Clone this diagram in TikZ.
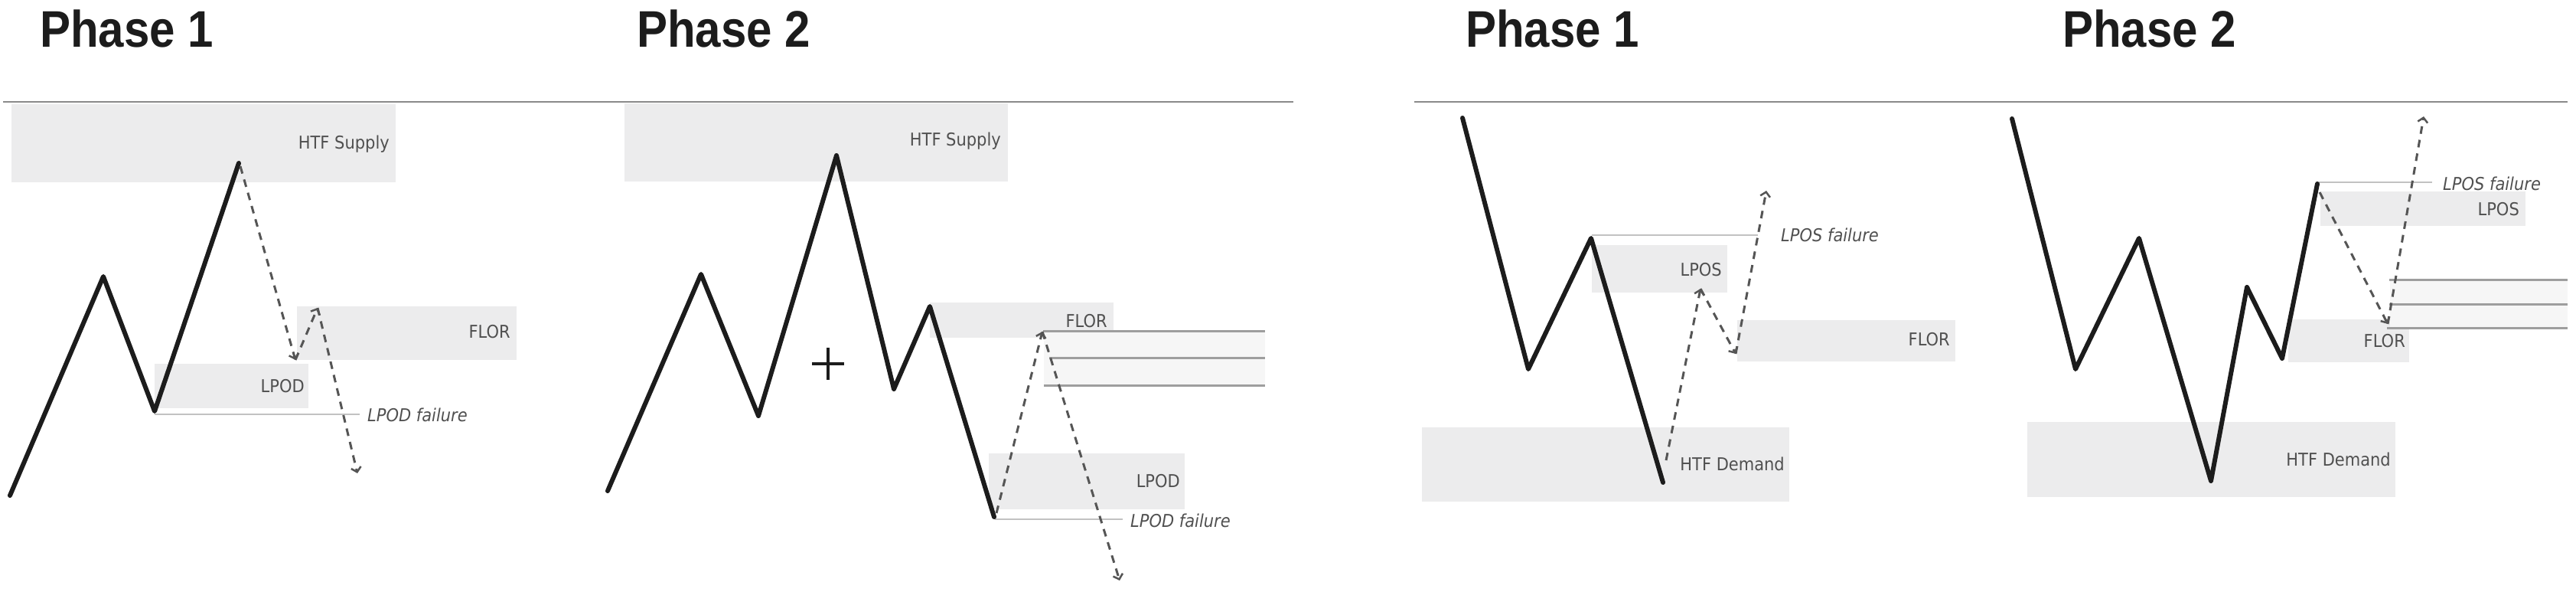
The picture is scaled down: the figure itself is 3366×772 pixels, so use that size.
\documentclass[tikz,border=0pt]{standalone}
\usepackage{fontspec}
\setmainfont{Liberation Sans}
\newfontfamily\labfont{DejaVu Sans}
\usetikzlibrary{arrows.meta}
\definecolor{boxgray}{HTML}{ECECED}
\definecolor{inkc}{HTML}{1C1C1C}
\definecolor{labc}{HTML}{505050}
\definecolor{rulec}{HTML}{8A8A8A}
\definecolor{failc}{HTML}{C2C2C2}
\definecolor{dashc}{HTML}{555555}
\definecolor{levc}{HTML}{9E9E9E}
\definecolor{bandc}{HTML}{F6F6F6}
\newcommand{\lab}[1]{\scalebox{1}[1.1]{#1}}
\newcommand{\ttl}[1]{\scalebox{1}[1.12]{#1}}
\begin{document}
\begin{tikzpicture}[x=1pt,y=-1pt,
  zone/.style={fill=boxgray,draw=none},
  band/.style={fill=bandc,draw=none},
  zlabel/.style={anchor=east,text=labc,font=\labfont\fontsize{21}{25}\selectfont,inner sep=0pt},
  flabel/.style={anchor=west,text=labc,font=\labfont\fontsize{21}{25}\selectfont\itshape,inner sep=0pt},
  title/.style={anchor=base west,text=inkc,font=\fontsize{60}{70}\selectfont\bfseries,inner sep=0pt},
  price/.style={draw=inkc,line width=6pt,line join=round,line cap=round},
  proj/.style={draw=dashc,line width=3pt,dash pattern=on 10pt off 8pt,
     -{Straight Barb[length=6pt,width=13pt,line width=2.5pt]}},
  level/.style={draw=levc,line width=3pt},
  fail/.style={draw=failc,line width=2.5pt},
  rule/.style={draw=rulec,line width=2pt}]
\useasboundingbox (0,0) rectangle (3366,772);

% header rules
\coordinate (rl1) at (4,132.5);   \coordinate (rl2) at (1690,132.5);
\coordinate (rr1) at (1848,132.5); \coordinate (rr2) at (3355,132.5);
\draw[rule] (rl1) -- (rl2);
\draw[rule] (rr1) -- (rr2);

% ===================== Panel 1 =====================
\node[title] (t1) at (52,61) {\ttl{Phase 1}};
\path[zone] (15,136) rectangle (517,238);
\node[zlabel] (sup1) at (509,188) {\lab{HTF Supply}};
\path[zone] (388,400) rectangle (675,470);
\node[zlabel] (flor1) at (667,433) {\lab{FLOR}};
\path[zone] (202,475) rectangle (403,533);
\node[zlabel] (lpod1) at (398,504) {\lab{LPOD}};
\coordinate (f1a) at (202,541); \coordinate (f1b) at (470,541);
\draw[fail] (f1a) -- (f1b);
\node[flabel] (lf1) at (480,542) {\lab{LPOD failure}};
\coordinate (a1) at (13,647); \coordinate (a2) at (135,361);
\coordinate (a3) at (202,537); \coordinate (a4) at (312,213);
\draw[price] (a1) -- (a2) -- (a3) -- (a4);
\coordinate (d0) at (314,217);
\coordinate (d1) at (386,470); \coordinate (d2) at (415,402);
\coordinate (d3) at (467,618);
\draw[proj] (d0) -- (d1);
\draw[proj] (d1) -- (d2);
\draw[proj] (d2) -- (d3);

% ===================== Panel 2 =====================
\node[title] (t2) at (832,61) {\ttl{Phase 2}};
\path[zone] (816,135) rectangle (1317,237);
\node[zlabel] (sup2) at (1308,184) {\lab{HTF Supply}};
\path[zone] (1215,395) rectangle (1455,441);
\node[zlabel] (flor2) at (1447,419) {\lab{FLOR}};
\path[zone] (1292,592) rectangle (1548,665);
\node[zlabel] (lpod2) at (1542,628) {\lab{LPOD}};
\path[band] (1364,432) rectangle (1653,503);
\coordinate (l2a) at (1363,432); \coordinate (l2b) at (1653,432);
\coordinate (l2c) at (1371,467); \coordinate (l2d) at (1653,467);
\coordinate (l2e) at (1364,503); \coordinate (l2f) at (1653,503);
\draw[level] (l2a) -- (l2b);
\draw[level] (l2c) -- (l2d);
\draw[level] (l2e) -- (l2f);
\coordinate (f2a) at (1300,678); \coordinate (f2b) at (1467,678);
\draw[fail] (f2a) -- (f2b);
\node[flabel] (lf2) at (1477,680) {\lab{LPOD failure}};
\coordinate (b1) at (794,641); \coordinate (b2) at (916,358);
\coordinate (b3) at (991,543); \coordinate (b4) at (1093,203);
\coordinate (b5) at (1168,508); \coordinate (b6) at (1215,400);
\coordinate (b7) at (1299,675);
\draw[price] (b1) -- (b2) -- (b3) -- (b4) -- (b5) -- (b6) -- (b7);
\coordinate (plus) at (1082,475);
\draw[draw=inkc,line width=4.5pt] ([xshift=-21pt]plus) -- ([xshift=21pt]plus);
\draw[draw=inkc,line width=4.5pt] ([yshift=-21pt]plus) -- ([yshift=21pt]plus);
\coordinate (e0) at (1302,670); \coordinate (e1) at (1362,433);
\coordinate (e2) at (1463,758);
\draw[proj] (e0) -- (e1);
\draw[proj] (e1) -- (e2);

% ===================== Panel 3 =====================
\node[title] (t3) at (1915,61) {\ttl{Phase 1}};
\path[zone] (2080,320) rectangle (2257,382);
\node[zlabel] (lpos3) at (2250,352) {\lab{LPOS}};
\path[zone] (2270,418) rectangle (2555,472);
\node[zlabel] (flor3) at (2548,443) {\lab{FLOR}};
\path[zone] (1858,558) rectangle (2338,655);
\node[zlabel] (dem3) at (2332,606) {\lab{HTF Demand}};
\coordinate (f3a) at (2080,307); \coordinate (f3b) at (2297,307);
\draw[fail] (f3a) -- (f3b);
\node[flabel] (lf3) at (2327,307) {\lab{LPOS failure}};
\coordinate (c1) at (1911,154); \coordinate (c2) at (1997,482);
\coordinate (c3) at (2079,311); \coordinate (c4) at (2173,630);
\draw[price] (c1) -- (c2) -- (c3) -- (c4);
\coordinate (g1) at (2177,601); \coordinate (g2) at (2222,377);
\coordinate (g3) at (2268,462); \coordinate (g4) at (2308,249);
\draw[proj] (g1) -- (g2);
\draw[proj] (g2) -- (g3);
\draw[proj] (g3) -- (g4);

% ===================== Panel 4 =====================
\node[title] (t4) at (2695,61) {\ttl{Phase 2}};
\path[zone] (3032,250) rectangle (3300,295);
\node[zlabel] (lpos4) at (3292,273) {\lab{LPOS}};
\path[zone] (2990,417) rectangle (3148,473);
\node[zlabel] (flor4) at (3143,445) {\lab{FLOR}};
\path[zone] (2649,551) rectangle (3130,649);
\node[zlabel] (dem4) at (3124,600) {\lab{HTF Demand}};
\path[band] (3123,365) rectangle (3355,428);
\coordinate (l4a) at (3122,365); \coordinate (l4b) at (3355,365);
\coordinate (l4c) at (3122,397); \coordinate (l4d) at (3355,397);
\coordinate (l4e) at (3119,428); \coordinate (l4f) at (3355,428);
\draw[level] (l4a) -- (l4b);
\draw[level] (l4c) -- (l4d);
\draw[level] (l4e) -- (l4f);
\coordinate (f4a) at (3030,238); \coordinate (f4b) at (3178,238);
\draw[fail] (f4a) -- (f4b);
\node[flabel] (lf4) at (3192,240) {\lab{LPOS failure}};
\coordinate (h1) at (2629,155); \coordinate (h2) at (2712,482);
\coordinate (h3) at (2795,311); \coordinate (h4) at (2889,628);
\coordinate (h5) at (2936,375); \coordinate (h6) at (2982,468);
\coordinate (h7) at (3028,240);
\draw[price] (h1) -- (h2) -- (h3) -- (h4) -- (h5) -- (h6) -- (h7);
\coordinate (k1) at (3031,251); \coordinate (k2) at (3120,423);
\coordinate (k3) at (3167,152);
\draw[proj] (k1) -- (k2);
\draw[proj] (k2) -- (k3);
\end{tikzpicture}
\end{document}
